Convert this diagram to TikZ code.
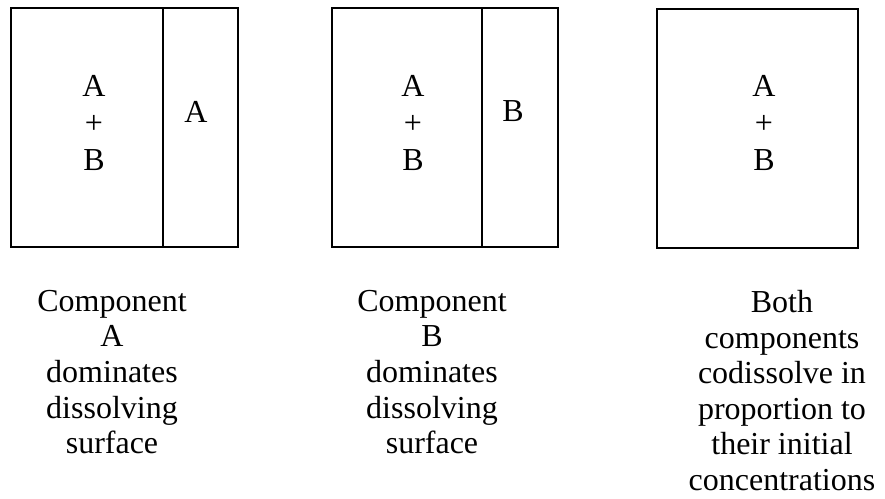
\documentclass[tikz,border=0pt]{standalone}
\usepackage{fontspec}
\setmainfont{Liberation Serif}

\tikzset{
  wall/.style={draw, line width=1.5pt},
  species/.style={font=\fontsize{32}{37}\selectfont, align=center, inner sep=0pt},
  caption/.style={font=\fontsize{32}{35.6}\selectfont, align=center, inner sep=0pt, anchor=north}
}

\begin{document}
\begin{tikzpicture}[x=1pt, y=-1pt]
                \useasboundingbox (0,0) rectangle (885,498);

                % three dissolving compacts
                \draw[wall] (11,8) rectangle (238,247);
                \draw[wall] (163,8) -- (163,247);
                \draw[wall] (332,8) rectangle (558,247);
                \draw[wall] (482,8) -- (482,247);
                \draw[wall] (657,9) rectangle (858,248);

                \node[species] (mixA) at (94,123) {A\\+\\B};
                \node[species] (surfA) at (196,112) {A};
                \node[species] (mixB) at (413,123) {A\\+\\B};
                \node[species] (surfB) at (513,111) {B};
                \node[species] (mixAB) at (764,123) {A\\+\\B};

                \node[caption] (capA) at (112,290) {Component\\A\\dominates\\dissolving\\surface};
                \node[caption] (capB) at (432,290) {Component\\B\\dominates\\dissolving\\surface};
                \node[caption] (capAB) at (782,290) {Both\\components\\codissolve in\\proportion to\\their initial\\concentrations};
            \end{tikzpicture}
\end{document}
